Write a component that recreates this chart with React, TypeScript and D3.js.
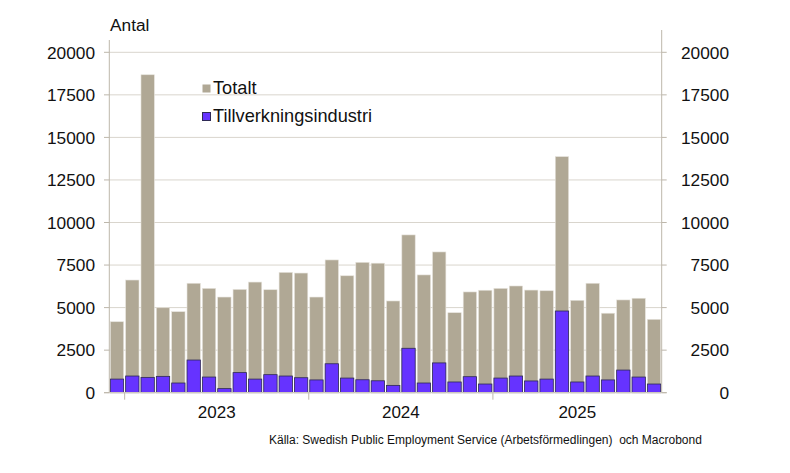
import React from "react";
import * as d3 from "d3";

const months: string[] = [
  "2022-12",
  "2023-01","2023-02","2023-03","2023-04","2023-05","2023-06","2023-07","2023-08","2023-09","2023-10","2023-11","2023-12",
  "2024-01","2024-02","2024-03","2024-04","2024-05","2024-06","2024-07","2024-08","2024-09","2024-10","2024-11","2024-12",
  "2025-01","2025-02","2025-03","2025-04","2025-05","2025-06","2025-07","2025-08","2025-09","2025-10","2025-11",
];

const totalt: number[] = [
  4170,
  6620, 18680, 4990, 4760, 6430, 6130, 5620, 6070, 6500, 6050, 7070, 7030,
  5620, 7800, 6870, 7660, 7610, 5390, 9270, 6920, 8270, 4700, 5920, 6020,
  6130, 6270, 6030, 5990, 13870, 5430, 6430, 4670, 5450, 5550, 4310,
];

const tillverkning: number[] = [
  800,
  980, 900, 960, 570, 1920, 920, 240, 1180, 800, 1060, 980, 880,
  750, 1700, 860, 760, 700, 430, 2610, 570, 1750, 630, 940, 510,
  860, 980, 690, 800, 4800, 630, 980, 750, 1330, 920, 510,
];

const yTicks: number[] = [0, 2500, 5000, 7500, 10000, 12500, 15000, 17500, 20000];
const years: string[] = ["2023", "2024", "2025"];

const W = 790;
const H = 473;
const left = 109.3;
const right = 661.7;
const top = 52.3;
const bottom = 392.7;

const font = "'Liberation Sans', Arial, Helvetica, sans-serif";

export default function App() {
  const x = d3.scaleBand<string>().domain(months).range([left, right]).paddingInner(0.13).paddingOuter(0.065);
  const y = d3.scaleLinear().domain([0, 20000]).range([bottom, top]);
  const step = x.step();
  const boundaryX = (m: string) => (x(m) as number) - (x.paddingInner() * step) / 2;

  const yearStarts = years.map((yr) => months.indexOf(yr + "-01"));
  const yearSpans = years.map((yr, i) => {
    const s = yearStarts[i];
    const e = i + 1 < years.length ? yearStarts[i + 1] : months.length;
    const x0 = left + x.paddingOuter() * step + s * step - (x.paddingInner() * step) / 2;
    const x1 = Math.min(right, left + x.paddingOuter() * step + e * step - (x.paddingInner() * step) / 2);
    return { yr, x0, x1 };
  });

  return (
    <svg width={W} height={H} style={{ position: "absolute", left: 0, top: 0, background: "#fff" }} fontFamily={font}>
      {yTicks.filter((t) => t > 0).map((t) => (
        <line key={"g" + t} x1={left} x2={right} y1={y(t)} y2={y(t)} stroke="#d9d5cd" strokeWidth={1} />
      ))}
      {months.map((m, i) => (
        <rect key={"t" + m} x={x(m)} y={y(totalt[i])} width={x.bandwidth()} height={bottom - y(totalt[i])}
          fill="#b0a895" stroke="#e6e3dc" strokeWidth={0.6} />
      ))}
      {months.map((m, i) => (
        <rect key={"b" + m} x={x(m)} y={y(tillverkning[i])} width={x.bandwidth()} height={bottom - y(tillverkning[i])}
          fill="#6633ff" stroke="#2e2a55" strokeWidth={0.8} />
      ))}
      <line x1={left} x2={left} y1={40} y2={bottom} stroke="#bdb7ab" strokeWidth={1} />
      <line x1={right} x2={right} y1={30} y2={bottom} stroke="#bdb7ab" strokeWidth={1} />
      <line x1={104} x2={right + 5} y1={bottom} y2={bottom} stroke="#cdc8be" strokeWidth={1.2} />
      {yTicks.map((t) => (
        <g key={"yt" + t}>
          <line x1={104} x2={left} y1={y(t)} y2={y(t)} stroke="#bdb7ab" />
          <line x1={right} x2={right + 5} y1={y(t)} y2={y(t)} stroke="#bdb7ab" />
          <text x={95} y={y(t)} dy="0.36em" textAnchor="end" fontSize={17.3} fill="#111">{t}</text>
          <text x={729} y={y(t)} dy="0.36em" textAnchor="end" fontSize={17.3} fill="#111">{t}</text>
        </g>
      ))}
      {yearStarts.map((s) => (
        <line key={"xt" + s} x1={boundaryX(months[s])} x2={boundaryX(months[s])} y1={bottom} y2={bottom + 7}
          stroke="#bdb7ab" strokeWidth={1} />
      ))}
      {yearSpans.map((sp) => (
        <text key={"yl" + sp.yr} x={(sp.x0 + sp.x1) / 2} y={418} textAnchor="middle" fontSize={17} fill="#111">{sp.yr}</text>
      ))}
      <text x={110} y={31} fontSize={17.3} fill="#111">Antal</text>
      <rect x={202.5} y={84.5} width={8} height={8} fill="#b0a895" />
      <text x={213} y={94} fontSize={18.2} fill="#111">Totalt</text>
      <rect x={202.5} y={112.5} width={8} height={8} fill="#6633ff" stroke="#2e2a55" strokeWidth={1} />
      <text x={213} y={122} fontSize={18.2} fill="#111">Tillverkningsindustri</text>
      <text x={269} y={444} fontSize={12} fill="#111" style={{ whiteSpace: "pre" }}>
        Källa: Swedish Public Employment Service (Arbetsförmedlingen)  och Macrobond
      </text>
    </svg>
  );
}
